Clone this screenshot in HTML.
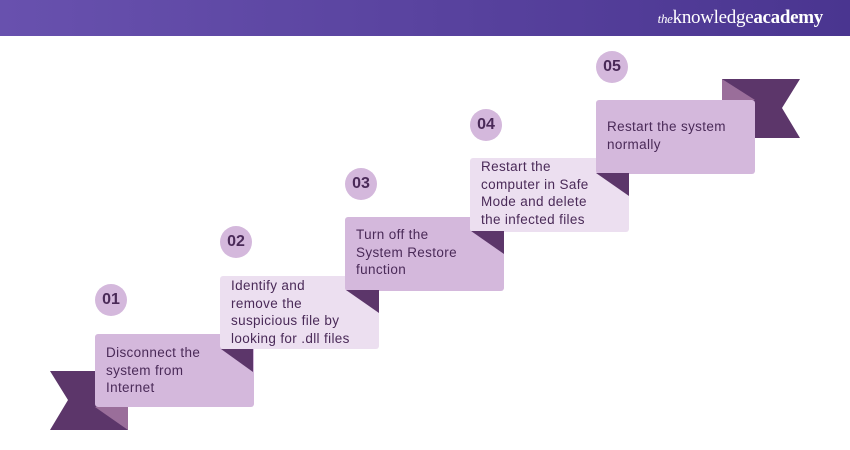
<!DOCTYPE html>
<html><head><style>
body{margin:0;width:850px;height:450px;background:#fff;position:relative;overflow:hidden;font-family:"Liberation Sans",sans-serif}
.hdr{position:absolute;left:0;top:0;width:850px;height:36px;background:linear-gradient(90deg,#6851ae,#4a3590)}
.logo{position:absolute;right:27px;top:7px;color:#fff;font-family:"Liberation Serif",serif;font-size:19px;letter-spacing:-0.3px}
.logo i{font-size:13px}
.box{position:absolute;width:159px;border-radius:3px;color:#4a2a58;font-size:13.5px;letter-spacing:0.35px;line-height:17.5px;box-sizing:border-box;padding-left:11px;white-space:nowrap}
.d{background:#d4b8dc}.l{background:#ecdff0}
.c{position:absolute;width:32px;height:32px;border-radius:50%;background:#d4b8dc;color:#4a2a58;font-weight:bold;font-size:16px;text-align:center;line-height:32px}
svg{position:absolute;left:0;top:0}
</style></head><body>
<div class="hdr"><div class="logo"><i>the</i>knowledge<b>academy</b></div></div>
<svg width="850" height="450">
<polygon points="50,371 128,371 128,430 50,430 68,400" fill="#5c366a"/>
<polygon points="95,407 128,407 128,430" fill="#9a6e9a"/>
<polygon points="722,79 800,79 782,108 800,138 722,138" fill="#5c366a"/>
<polygon points="722,79 755,100 722,100" fill="#9a6e9a"/>
</svg>
<div class="box d" style="left:95px;top:334px;height:73px;padding-top:10px">Disconnect the<br>system from<br>Internet</div>
<div class="box l" style="left:220px;top:276px;height:73px;padding-top:1px">Identify and<br>remove the<br>suspicious file by<br>looking for .dll files</div>
<div class="box d" style="left:345px;top:217px;height:74px;padding-top:9px">Turn off the<br>System Restore<br>function</div>
<div class="box l" style="left:470px;top:158px;height:74px;padding-top:0px">Restart the<br>computer in Safe<br>Mode and delete<br>the infected files</div>
<div class="box d" style="left:596px;top:100px;height:74px;padding-top:18px">Restart the system<br>normally</div>
<svg width="850" height="450" style="z-index:2">
<polygon points="221,349 253,349 253,372" fill="#5c366a"/>
<polygon points="346,290 379,290 379,313" fill="#5c366a"/>
<polygon points="471,231 504,231 504,254" fill="#5c366a"/>
<polygon points="596,173 629,173 629,196" fill="#5c366a"/>
</svg>
<div class="c" style="left:95px;top:284px">01</div>
<div class="c" style="left:220px;top:226px">02</div>
<div class="c" style="left:345px;top:168px">03</div>
<div class="c" style="left:470px;top:109px">04</div>
<div class="c" style="left:596px;top:51px">05</div>
</body></html>
